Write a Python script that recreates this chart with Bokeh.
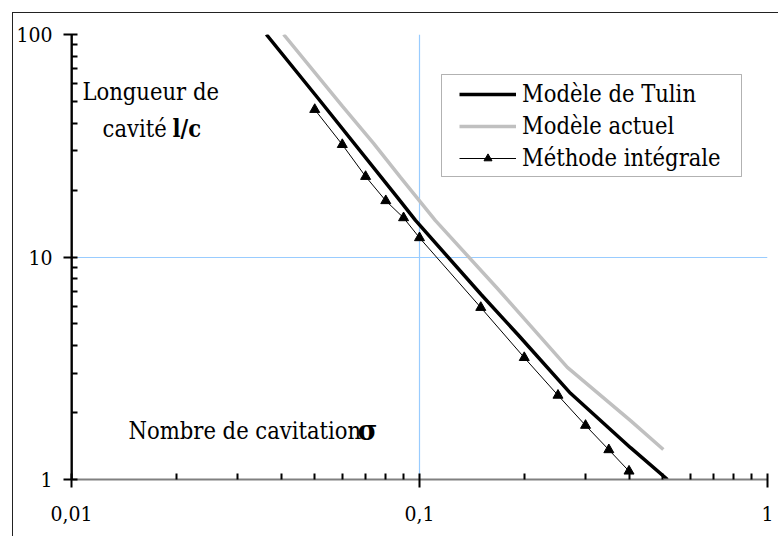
from bokeh.plotting import figure
from bokeh.models import (FixedTicker, Range1d, Label, Legend, LegendItem, BoxAnnotation, Span)
from bokeh.embed import file_html
from bokeh.resources import INLINE

# ---- data ----
tulin_sigma = [0.0363, 0.0509, 0.0865, 0.0974, 0.1508, 0.1925, 0.2716, 0.404, 0.516]
tulin_lc    = [100.0, 52.1, 18.5, 14.6, 6.75, 4.45, 2.44, 1.39, 1.0]

actuel_sigma = [0.0407, 0.0601, 0.0738, 0.0882, 0.111, 0.1675, 0.266, 0.404, 0.502]
actuel_lc    = [100.0, 47.5, 32.4, 22.8, 14.6, 7.22, 3.19, 1.84, 1.364]

integ_sigma = [0.05, 0.06, 0.07, 0.08, 0.09, 0.1, 0.15, 0.2, 0.25, 0.3, 0.35, 0.4]
integ_lc    = [46.0, 32.0, 23.0, 17.9, 15.0, 12.2, 5.93, 3.53, 2.39, 1.75, 1.36, 1.09]

x_ticks = [0.01, 0.1, 1.0]
x_tick_labels = ["0,01", "0,1", "1"]
y_ticks = [1.0, 10.0, 100.0]
y_tick_labels = ["1", "10", "100"]
series_names = ["Modèle de Tulin", "Modèle actuel", "Méthode intégrale"]

SERIF = "DejaVu Serif Condensed"

p = figure(width=778, height=536, x_axis_type="log", y_axis_type="log",
           x_range=Range1d(0.01, 1.0), y_range=Range1d(1.0, 100.0),
           output_backend="svg", toolbar_location=None,
           min_border_left=71, min_border_right=11, min_border_top=34, min_border_bottom=57)
p.outline_line_color = None
p.background_fill_color = "white"
p.border_fill_color = "white"
p.stylesheets = [":host::after { content: ''; position: absolute; left: 12px; top: 12px; "
                 "right: 0; bottom: 0; border-left: 1px solid #222; border-top: 1px solid #222; "
                 "pointer-events: none; }"]

minor = lambda majors: [m * k for m in majors[:-1] for k in range(2, 10)]

xa = p.xaxis[0]
xa.ticker = FixedTicker(ticks=x_ticks, minor_ticks=minor(x_ticks))
xa.major_label_overrides = dict(zip(x_ticks, x_tick_labels))
xa.axis_line_color = "#808080"
xa.axis_line_width = 2
xa.major_tick_line_color = "black"
xa.major_tick_line_width = 2
xa.minor_tick_line_color = "black"
xa.minor_tick_line_width = 2
xa.major_tick_in = 6
xa.major_tick_out = 8
xa.minor_tick_in = 6
xa.minor_tick_out = 0
xa.major_label_standoff = 18
xa.major_label_text_font = SERIF
xa.major_label_text_font_size = "21px"
xa.major_label_text_color = "black"

ya = p.yaxis[0]
ya.ticker = FixedTicker(ticks=y_ticks, minor_ticks=minor(y_ticks))
ya.major_label_overrides = dict(zip(y_ticks, y_tick_labels))
ya.axis_line_color = "black"
ya.axis_line_width = 2
ya.major_tick_line_color = "black"
ya.major_tick_line_width = 2
ya.minor_tick_line_color = "black"
ya.minor_tick_line_width = 2
ya.major_tick_in = 6
ya.major_tick_out = 8
ya.minor_tick_in = 6
ya.minor_tick_out = 0
ya.major_label_standoff = 11
ya.major_label_text_font = SERIF
ya.major_label_text_font_size = "21px"
ya.major_label_text_color = "black"

# vertical axis line along sigma = 0.01 (drawn twice, as span and as thin box)
p.add_layout(Span(location=x_ticks[0], dimension="height", line_color="black", line_width=2))
p.add_layout(BoxAnnotation(left=70, right=72, top=34, bottom=480,
                           left_units="canvas", right_units="canvas",
                           top_units="canvas", bottom_units="canvas",
                           fill_color="black", fill_alpha=1, line_color=None))

# gridlines only where the reference shows them (not under the axes)
p.xgrid[0].ticker = FixedTicker(ticks=x_ticks[1:])
p.ygrid[0].ticker = FixedTicker(ticks=y_ticks[1:])
for g in (p.xgrid[0], p.ygrid[0]):
    g.grid_line_color = "#99ccff"
    g.grid_line_width = 1.2

r_tulin = p.line(tulin_sigma, tulin_lc, line_color="black", line_width=3.5)
r_act = p.line(actuel_sigma, actuel_lc, line_color="#c0c0c0", line_width=3.5)
r_int_l = p.line(integ_sigma, integ_lc, line_color="black", line_width=1)
r_int_m = p.scatter(integ_sigma, integ_lc, marker="triangle", size=10,
                    fill_color="black", line_color="black")

legend = Legend(items=[LegendItem(label=series_names[0], renderers=[r_tulin]),
                       LegendItem(label=series_names[1], renderers=[r_act]),
                       LegendItem(label=series_names[2], renderers=[r_int_l, r_int_m])],
                location=(388, 306), orientation="vertical")
legend.label_text_font = SERIF
legend.label_text_font_size = "23.5px"
legend.label_text_color = "black"
legend.glyph_width = 57
legend.glyph_height = 20
legend.label_height = 30
legend.label_standoff = 6
legend.spacing = 2
legend.padding = 4
legend.margin = 0
legend.border_line_color = None
legend.background_fill_alpha = 0
p.add_layout(legend)

p.add_layout(BoxAnnotation(left=441, right=741, top=74, bottom=176,
                           left_units="canvas", right_units="canvas",
                           top_units="canvas", bottom_units="canvas",
                           fill_alpha=0, line_color="black", line_width=1))

def lab(x, y, text, size="23.5px", style="normal", font=SERIF):
    p.add_layout(Label(x=x, y=y, text=text, text_font=font, text_font_size=size,
                       text_font_style=style, text_color="black",
                       text_baseline="alphabetic", text_align="left"))

lab(0.01075, 55.4, "Longueur de")
lab(0.01228, 37.7, "cavité")
lab(0.01951, 37.7, "l/c", style="bold")
lab(0.01458, 1.66, "Nombre de cavitation")
lab(0.0663, 1.66, "σ", size="27px", style="bold", font="DejaVu Serif")

open("out.html", "w").write(file_html(p, INLINE))
